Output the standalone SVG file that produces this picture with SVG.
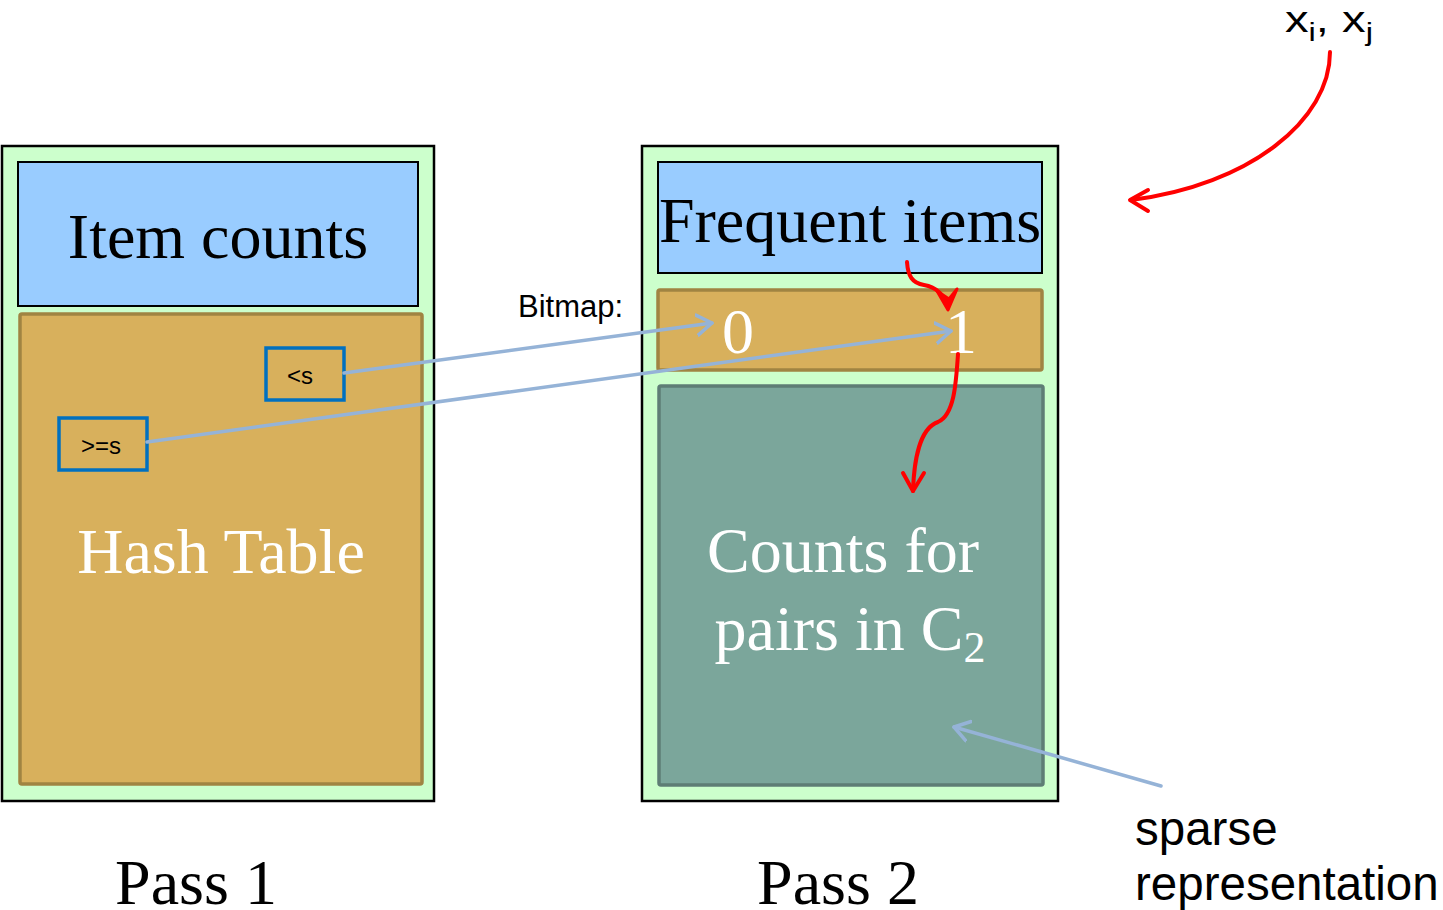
<svg xmlns="http://www.w3.org/2000/svg" width="1443" height="910" viewBox="0 0 1443 910">
<style>
.outer{fill:#CCFFCC;stroke:#000;stroke-width:2.5}
.blue{fill:#99CCFF;stroke:#000;stroke-width:2}
.tan{fill:#D8B05C;stroke:#A08442;stroke-width:3.5}
.teal{fill:#7BA69B;stroke:#5E7D75;stroke-width:3.5}
.thr{fill:#D8B05C;stroke:#0070C0;stroke-width:3.5}
.serif{font-family:"Liberation Serif","Times New Roman",serif}
.sans{font-family:"Liberation Sans",Arial,sans-serif}
.big{font-size:64px}
.wt{fill:#fff}
.bl{stroke:#95B3D7;stroke-width:3.5;fill:none;stroke-linecap:round}
.rd{stroke:#FF0000;stroke-width:4;fill:none;stroke-linecap:round;stroke-linejoin:round}
</style>
<defs>
<marker id="ah" markerUnits="userSpaceOnUse" viewBox="-16 -12 20 24" refX="0" refY="0" markerWidth="20" markerHeight="24" orient="auto">
<path d="M-15,-10 L0,0 L-15,10" fill="none" stroke="#95B3D7" stroke-width="3.5" stroke-linecap="round" stroke-linejoin="round"/>
</marker>
</defs>
<g id="pass1">
<rect class="outer" x="2" y="146" width="432" height="655"/>
<g id="item-counts"><rect class="blue" x="18" y="162" width="400" height="144"/>
<text class="serif big" x="218" y="258" text-anchor="middle">Item counts</text></g>
<g id="hash-table"><rect class="tan" x="20" y="314" width="402" height="470" rx="2"/>
<text class="serif big wt" x="221" y="573" text-anchor="middle">Hash Table</text></g>
<g id="lt-s"><rect class="thr" x="266" y="348" width="78" height="52"/>
<text class="sans" font-size="24" x="300" y="384" text-anchor="middle">&lt;s</text></g>
<g id="ge-s"><rect class="thr" x="59" y="418" width="88" height="52"/>
<text class="sans" font-size="24" x="101" y="454" text-anchor="middle">&gt;=s</text></g>
<text class="serif big" x="196" y="904" text-anchor="middle">Pass 1</text>
</g>
<g id="pass2">
<rect class="outer" x="642" y="146" width="416" height="655"/>
<g id="frequent-items"><rect class="blue" x="658" y="162" width="384" height="111"/>
<text class="serif big" x="850" y="242" text-anchor="middle">Frequent items</text></g>
<g id="bitmap"><rect class="tan" x="658" y="290" width="384" height="80" rx="2"/>
<text class="serif big wt" x="738" y="353" text-anchor="middle">0</text>
<text class="serif big wt" x="961" y="353" text-anchor="middle">1</text></g>
<g id="counts"><rect class="teal" x="659" y="386" width="384" height="399" rx="2"/>
<text class="serif big wt" x="843" y="572" text-anchor="middle">Counts for</text>
<text class="serif big wt" x="850" y="650" text-anchor="middle">pairs in C<tspan font-size="44" dy="12">2</tspan></text></g>
<text class="serif big" x="838" y="904" text-anchor="middle">Pass 2</text>
</g>
<g id="labels">
<text class="sans" font-size="31" x="518" y="317">Bitmap:</text>
<text class="sans" font-size="36" x="1285" y="32" textLength="88" lengthAdjust="spacingAndGlyphs">x<tspan font-size="25" dy="9">i</tspan><tspan dy="-9">, x</tspan><tspan font-size="25" dy="9">j</tspan></text>
<text class="sans" font-size="47.5" x="1135" y="845">sparse</text>
<text class="sans" font-size="47.5" x="1135" y="900">representation</text>
</g>
<g id="connectors">
<line class="bl" x1="344" y1="373" x2="712" y2="323" marker-end="url(#ah)"/>
<line class="bl" x1="147" y1="442" x2="951" y2="331" marker-end="url(#ah)"/>
<line class="bl" x1="1161" y1="786" x2="954" y2="727" marker-end="url(#ah)"/>
<path class="rd" d="M907,262 C908,276 912,283 924,285 C936,287 944,294 948,308"/>
<path d="M937,291 L948,310 L957,289 L949,299 Z" fill="#FF0000" stroke="#FF0000" stroke-width="3" stroke-linejoin="round"/>
<path class="rd" d="M958,354 C956,385 954,415 938,422 C920,428 914,460 913,491"/>
<path class="rd" d="M903,473 L913,491 L924,473"/>
<path class="rd" d="M1330,52 C1330,120 1250,185 1131,200"/>
<path class="rd" d="M1148,190 L1130,200 L1148,211"/>
</g>
</svg>
